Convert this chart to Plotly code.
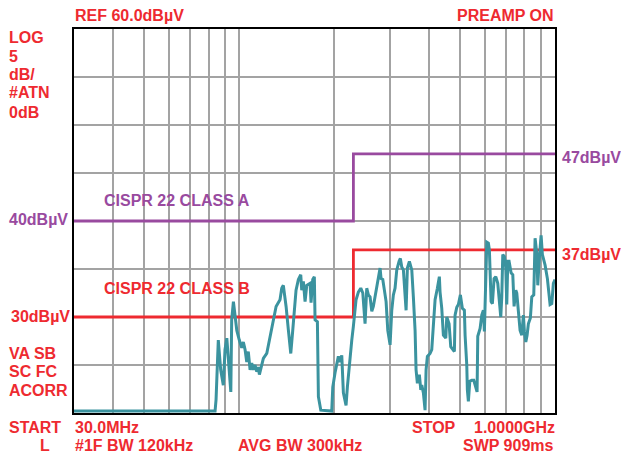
import plotly.graph_objects as go
import math

# Measured trace (frequency in MHz, level in dBuV)
freq_mhz = [30.0, 83.9, 84.5, 85.9, 87.4, 89.1, 90.2, 91.4, 94.1, 94.7, 95.9, 97.1, 98.3, 100.1,
            101.9, 103.1, 104.4, 105.7, 106.9, 108.3, 109.6, 110.9, 112.3, 113.7, 115.0, 115.9,
            117.3, 119.3, 122.3, 125.3, 127.8, 130.9, 134.7, 136.4, 138.0, 140.8, 143.2, 145.7,
            147.8, 151.4, 154.0, 156.7, 157.8, 159.7, 161.7, 163.7, 167.7, 168.9, 171.0, 173.0,
            173.9, 176.9, 178.2, 181.3, 196.4,
            197.9, 201.2, 204.6, 206.1, 208.7, 211.3, 213.8, 218.0, 220.1, 223.4, 227.3, 229.9,
            232.8, 234.5, 238.5, 242.7, 246.3, 250.4, 253.5, 256.5, 259.7, 263.0, 266.0, 269.4,
            272.7, 275.9, 279.4, 281.4, 284.9, 288.3, 291.9, 295.5, 300.5, 304.2, 307.8, 311.6,
            315.5, 320.9, 323.9, 327.2, 331.1, 337.7, 340.9, 345.9, 352.0, 356.1, 360.6, 363.2,
            366.7, 372.0, 375.9, 378.6, 383.1, 387.8, 390.7, 394.4, 402.2, 407.2, 412.0, 417.2,
            424.2, 430.4,
            432.6, 438.0, 443.2, 451.0, 454.3, 462.0, 467.7, 480.2, 482.6, 488.7, 494.4, 501.7,
            509.0, 516.5, 519.2, 525.6, 527.9, 531.8, 537.3, 545.1, 553.2, 558.4, 566.6, 569.5,
            579.2, 586.4, 593.3, 597.6, 603.7, 608.2, 615.3, 619.8, 627.5, 633.5, 641.4, 649.4,
            658.9, 665.2, 673.5, 678.4, 683.4, 691.4, 698.5, 703.6, 708.8, 715.5, 726.0, 735.1,
            742.1, 751.4, 756.9, 765.7, 775.3, 785.0, 794.2, 800.0, 808.2, 815.9, 823.6, 835.7,
            844.3, 856.7, 864.9, 875.7, 882.1, 890.5, 903.6, 912.2, 930.3, 946.0, 957.8, 964.8,
            976.9, 988.3, 1000.0]
level_dbuv = [20.2, 20.2, 21.4, 27.6, 24.5, 22.9, 26.6, 27.8, 22.2, 29.7, 31.6, 30.0, 28.6, 27.6,
              26.8, 27.4, 26.6, 25.3, 26.4, 24.5, 25.2, 24.5, 25.0, 24.3, 24.8, 24.0,
              24.8, 25.7, 26.2, 28.0, 29.3, 31.1, 31.8, 33.0, 33.3, 31.1, 28.6, 26.2,
              28.6, 32.8, 33.9, 34.4, 32.8, 33.7, 31.6, 33.3, 33.5, 31.5, 33.9, 34.2,
              29.7, 29.5, 21.7, 20.3, 20.2,
              22.7, 24.2, 25.3, 25.9, 25.3, 26.0, 22.1, 20.8, 22.7, 25.2, 27.6, 29.0,
              30.4, 31.8, 32.6, 33.0, 32.5, 29.3, 33.0, 32.3, 32.1, 30.6, 31.1, 32.1,
              33.2, 33.9, 35.1, 34.0, 33.9, 32.8, 31.6, 28.6, 27.1, 30.7, 32.3, 33.0,
              34.9, 35.8, 36.1, 35.2, 34.9, 30.7, 35.1, 35.8, 34.9, 32.1, 28.6, 24.5,
              23.1, 24.0, 22.4, 22.9, 22.1, 20.3, 24.5, 25.9, 26.2, 26.6, 29.3, 31.8,
              33.0, 34.2,
              32.6, 30.9, 28.1, 27.8, 30.0, 29.3, 26.9, 26.4, 30.2, 31.0, 31.3, 32.3,
              30.9, 30.7, 28.1, 25.0, 22.4, 21.2, 23.3, 23.4, 23.4, 22.9, 22.2, 28.0,
              28.8, 30.2, 30.7, 28.5, 35.4, 37.8, 37.7, 37.0, 31.6, 31.4, 34.0, 34.2,
              33.5, 31.8, 30.0, 32.1, 36.5, 36.3, 35.1, 31.3, 35.8, 35.8, 34.6, 34.4,
              31.1, 32.8, 32.5, 30.6, 28.6, 28.1, 30.2, 28.5, 27.4, 28.1, 29.3, 29.9,
              32.1, 32.3, 38.2, 36.6, 33.3, 35.8, 38.5, 36.5, 35.4, 34.0, 32.6, 31.3,
              31.4, 33.5, 33.9]

# CISPR 22 limits (step at 230 MHz)
limit_freq = [30.0, 230.0, 230.0, 1000.0]
class_a = [40, 40, 47, 47]
class_b = [30, 30, 37, 37]

grid_freqs = [40, 50, 60, 70, 80, 90, 100, 200, 300, 400, 500, 600, 700, 800, 900]
y_ticks = [20, 25, 30, 35, 40, 45, 50, 55, 60]

RED = "#EE2A30"
PURPLE = "#994A9F"
TEAL = "#3B939F"
FONT = "Liberation Sans, Arial, sans-serif"

fig = go.Figure()
fig.add_trace(go.Scatter(x=limit_freq, y=class_a, mode="lines",
                         line=dict(color=PURPLE, width=2.8), hoverinfo="skip"))
fig.add_trace(go.Scatter(x=limit_freq, y=class_b, mode="lines",
                         line=dict(color=RED, width=2.8), hoverinfo="skip"))
fig.add_trace(go.Scatter(x=freq_mhz, y=level_dbuv, mode="lines",
                         line=dict(color=TEAL, width=3)))

# Plot area in pixels
L, R, T, B = 74, 555, 29, 413
W, H = 621, 458

fig.update_layout(
    width=W, height=H,
    margin=dict(l=L, r=W - R, t=T, b=H - B, pad=0),
    paper_bgcolor="white", plot_bgcolor="white",
    showlegend=False,
    font=dict(family=FONT, size=16, color=RED),
    xaxis=dict(type="log", range=[math.log10(30), math.log10(1000)],
               tickvals=grid_freqs, showticklabels=False, ticks="",
               showgrid=True, gridcolor="#A3A3A3", gridwidth=1.5,
               showline=True, linecolor="black", linewidth=2, mirror=True,
               zeroline=False),
    yaxis=dict(range=[20, 60], tickvals=y_ticks, showticklabels=False, ticks="",
               showgrid=True, gridcolor="#A3A3A3", gridwidth=1.5,
               showline=True, linecolor="black", linewidth=2, mirror=True,
               zeroline=False),
)


def px(xp):
    return (xp - L) / (R - L)


def py(yp):
    return (B - yp) / (B - T)


def label(text, xp, yp, color=RED, anchor="left"):
    fig.add_annotation(text="<b>%s</b>" % text, x=px(xp), y=py(yp),
                       xref="paper", yref="paper", showarrow=False,
                       xanchor=anchor, yanchor="middle",
                       font=dict(family=FONT, size=16, color=color))


label("REF 60.0dBµV", 73, 15)
label("PREAMP ON", 556, 15, anchor="right")
for t, yy in [("LOG", 37), ("5", 56), ("dB/", 74), ("#ATN", 93), ("0dB", 112)]:
    label(t, 7, yy)
label("40dBµV", 7, 219, color=PURPLE)
label("30dBµV", 9, 316)
for t, yy in [("VA SB", 353), ("SC FC", 371), ("ACORR", 390)]:
    label(t, 7, yy)
label("START", 7, 427)
label("L", 38, 445)
label("30.0MHz", 73, 427)
label("#1F BW 120kHz", 73, 445)
label("AVG BW 300kHz", 236, 445)
label("STOP", 410, 427)
label("1.0000GHz", 557, 427, anchor="right")
label("SWP 909ms", 556, 445, anchor="right")
label("47dBµV", 560, 157, color=PURPLE)
label("37dBµV", 560, 254)
label("CISPR 22 CLASS A", 102, 200, color=PURPLE)
label("CISPR 22 CLASS B", 102, 288)

fig.write_html("out.html")
